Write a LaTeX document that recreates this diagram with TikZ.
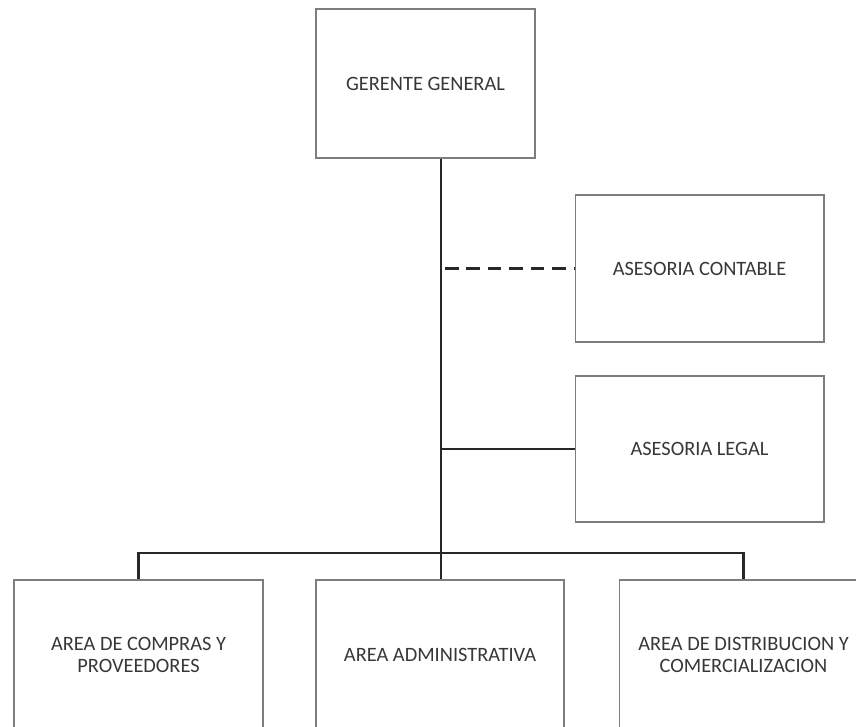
\documentclass[tikz,border=0pt]{standalone}
\usepackage{fontspec}
\setmainfont{Carlito}
\usetikzlibrary{positioning, calc}
\definecolor{boxgray}{RGB}{125, 125, 125}
\definecolor{linecolor}{RGB}{40, 40, 40}
\definecolor{textcolor}{RGB}{55, 55, 55}
\tikzset{
    orgbox/.style={
        rectangle,
        minimum width=4.98cm,
        minimum height=2.94cm,
        align=center,
        draw=boxgray,
        line width=0.6pt,
        font=\fontsize{11.6}{12.6}\selectfont,
        text=textcolor
    },
    link/.style={
        line width=1.3pt,
        color=linecolor
    },
    advice/.style={
        line width=1.3pt,
        color=linecolor,
        dash pattern=on 0.27cm off 0.16cm
    }
}
\begin{document}
\begin{tikzpicture}[x=0.02cm, y=-0.02cm]
    \useasboundingbox (0,0) rectangle (856,727);

    % Define main organisation nodes
    \node (gerente) [orgbox, minimum width=4.38cm, minimum height=2.98cm] at (425.5,83.5) {GERENTE GENERAL};
    \node (contable) [orgbox] at (699.5,268.5) {ASESORIA CONTABLE};
    \node (legal) [orgbox, minimum height=2.92cm] at (699.5,449) {ASESORIA LEGAL};
    \node (compras) [orgbox, minimum height=3.0cm] at (138.5,655) {AREA DE COMPRAS Y\\PROVEEDORES};
    \node (admin) [orgbox, minimum width=4.96cm, minimum height=3.0cm] at (440,655) {AREA ADMINISTRATIVA};
    \node (distrib) [orgbox, minimum height=3.0cm] at (743.5,655) {AREA DE DISTRIBUCION Y\\COMERCIALIZACION};
    \coordinate (hub) at (441,553);

    % Draw main lines
    \draw [link] (gerente.south -| hub) -- (hub);
    \draw [advice] ($(hub |- contable.west)+(4,0)$) -- (contable.west);
    \draw [link] (hub |- legal.west) -- (legal.west);
    \draw [link] (compras.north) |- (hub) -| (distrib.north);
    \draw [link] (hub) -- (admin.north -| hub);

\end{tikzpicture}
\end{document}
